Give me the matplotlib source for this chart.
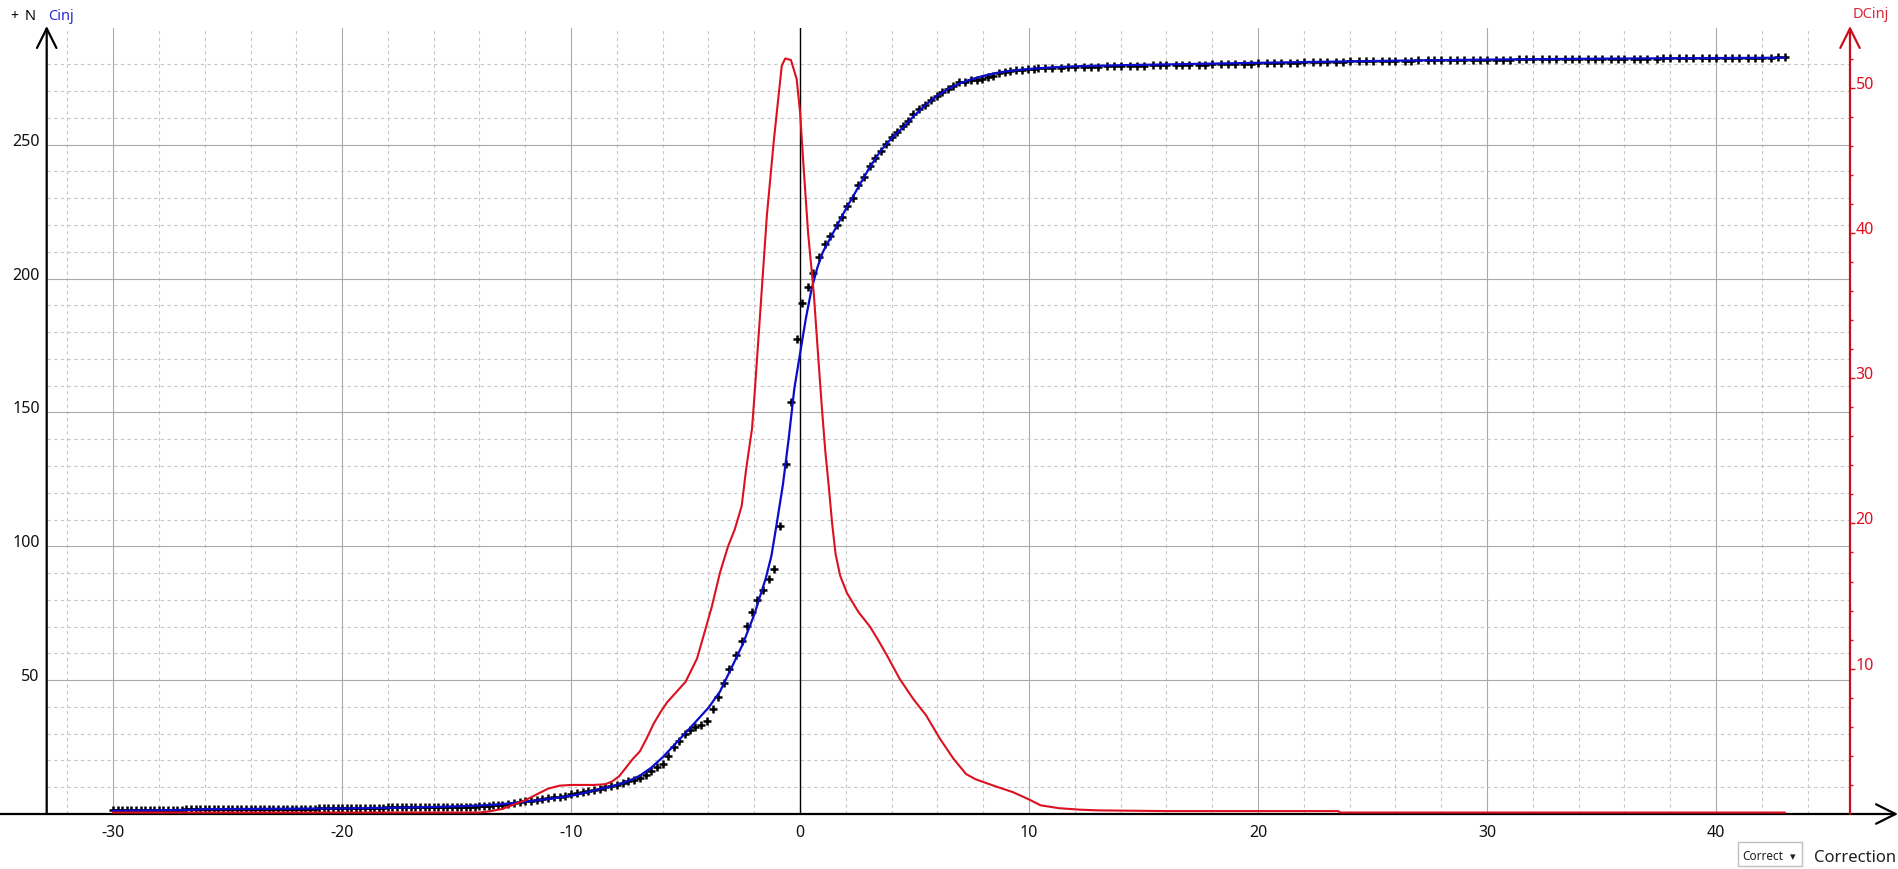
import numpy as np
import matplotlib
matplotlib.use('Agg')
from matplotlib import pyplot as plt
from matplotlib.patches import Rectangle

plt.rcParams['font.family'] = ['Noto Sans', 'DejaVu Sans']
plt.rcParams['axes.unicode_minus'] = False

W, H = 1899, 870

# --- N (black + markers), split by region ---
x_left = [-30.0, -29.8, -29.6, -29.4, -29.2, -29.0, -28.8, -28.6, -28.4, -28.2,
          -28.0, -27.8, -27.6, -27.4, -27.2, -27.0, -26.8, -26.6, -26.4, -26.2,
          -26.0, -25.8, -25.6, -25.4, -25.2, -25.0, -24.8, -24.6, -24.4, -24.2,
          -24.0, -23.8, -23.6, -23.4, -23.2, -23.0, -22.8, -22.6, -22.4, -22.2,
          -22.0, -21.8, -21.6, -21.4, -21.2, -21.0, -20.8, -20.6, -20.4, -20.2,
          -20.0, -19.8, -19.6, -19.4, -19.2, -19.0, -18.8, -18.6, -18.4, -18.2,
          -18.0, -17.8, -17.6, -17.4, -17.2, -17.0, -16.8, -16.6, -16.4, -16.2,
          -16.0, -15.8, -15.6, -15.4, -15.2, -15.0, -14.8, -14.6, -14.4, -14.2,
          -14.0, -13.8, -13.6, -13.4, -13.2]
n_left = [1.4, 1.4, 1.4, 1.4, 1.4, 1.4, 1.4, 1.4, 1.4, 1.4,
          1.4, 1.4, 1.4, 1.4, 1.4, 1.4, 1.8, 1.8, 1.8, 1.8,
          1.8, 1.8, 1.8, 1.8, 1.8, 1.8, 1.8, 1.8, 1.8, 1.8,
          2.0, 2.0, 2.0, 2.0, 2.0, 2.0, 2.0, 2.0, 2.0, 2.0,
          2.0, 2.0, 2.0, 2.0, 2.0, 2.2, 2.2, 2.2, 2.2, 2.2,
          2.2, 2.2, 2.2, 2.2, 2.2, 2.2, 2.2, 2.2, 2.2, 2.2,
          2.5, 2.5, 2.5, 2.5, 2.5, 2.5, 2.5, 2.5, 2.5, 2.5,
          2.6, 2.6, 2.6, 2.6, 2.6, 2.6, 2.8, 2.8, 2.8, 2.8,
          3.0, 3.0, 3.1, 3.2, 3.3]

x_mid = [-13.0, -12.75, -12.5, -12.25, -12.0, -11.75, -11.5, -11.25, -11.0, -10.75,
         -10.5, -10.25, -10.0, -9.75, -9.5, -9.25, -9.0, -8.75, -8.5, -8.25,
         -8.0, -7.75, -7.5, -7.25, -7.0, -6.75, -6.5, -6.25, -6.0, -5.75,
         -5.5, -5.27, -5.02, -4.8, -4.59, -4.34, -4.07, -3.81, -3.57, -3.32,
         -3.09, -2.81, -2.55, -2.33, -2.08, -1.86, -1.6, -1.35, -1.12, -0.87,
         -0.62, -0.39, -0.12, 0.09, 0.35, 0.57, 0.83, 1.09, 1.31, 1.62,
         1.83, 2.05, 2.31, 2.53, 2.8, 3.06, 3.27, 3.54, 3.76, 4.0,
         4.22, 4.48, 4.73, 4.95, 5.21, 5.46, 5.72, 5.97, 6.19, 6.45,
         6.69, 6.96, 7.2, 7.45, 7.72, 7.96, 8.22, 8.44, 8.7, 8.95,
         9.17, 9.43, 9.68, 9.97, 10.2, 10.4]
n_mid = [3.5, 3.8, 4.1, 4.4, 4.7, 5.0, 5.3, 5.6, 5.9, 6.2,
         6.5, 6.9, 7.3, 7.7, 8.1, 8.6, 9.0, 9.5, 10.0, 10.4,
         10.9, 11.6, 12.2, 12.8, 13.4, 14.7, 16.0, 17.4, 18.8, 21.6,
         24.9, 27.4, 29.9, 31.5, 32.4, 33.2, 34.9, 39.2, 43.8, 48.9,
         54.2, 59.5, 64.7, 70.3, 75.6, 80.1, 83.7, 87.8, 91.5, 107.7,
         130.7, 153.8, 177.4, 191.0, 197.0, 202.0, 208.0, 213.0, 216.0, 220.0,
         223.0, 227.0, 230.0, 235.0, 238.0, 242.0, 245.0, 247.5, 250.3, 253.0,
         254.8, 256.9, 259.0, 261.5, 263.4, 264.8, 266.8, 268.3, 269.6, 270.8,
         272.0, 273.3, 273.6, 274.0, 274.3, 274.6, 275.2, 275.8, 276.7, 277.3,
         277.7, 277.9, 278.0, 278.2, 278.2, 278.5]

x_plateau = [10.7, 11.0, 11.4, 11.7, 12.0, 12.4, 12.7, 13.0, 13.4, 13.7,
             14.0, 14.4, 14.7, 15.0, 15.4, 15.7, 16.0, 16.4, 16.7, 17.0,
             17.4, 17.7, 18.0, 18.4, 18.7, 19.0, 19.4, 19.7, 20.0, 20.4,
             20.7, 21.0, 21.4, 21.7, 22.0, 22.4, 22.7, 23.0, 23.4, 23.7,
             24.0, 24.4, 24.7, 25.0, 25.4, 25.7, 26.0, 26.4, 26.7, 27.0,
             27.4, 27.7, 28.0, 28.4, 28.7, 29.0, 29.4, 29.7, 30.0, 30.4,
             30.7, 31.0, 31.4, 31.7, 32.0, 32.4, 32.7, 33.0, 33.4, 33.7,
             34.0, 34.4, 34.7, 35.0, 35.4, 35.7, 36.0, 36.4, 36.7, 37.0,
             37.4, 37.7, 38.0, 38.4, 38.7, 39.0, 39.4, 39.7, 40.0, 40.4,
             40.7, 41.0, 41.4, 41.7, 42.0, 42.4, 42.7, 43.0]
n_plateau = [278.6, 278.7, 278.8, 278.9, 279.0, 279.1, 279.2, 279.2, 279.3, 279.3,
             279.4, 279.4, 279.5, 279.5, 279.6, 279.6, 279.7, 279.7, 279.8, 279.8,
             279.9, 279.9, 280.0, 280.0, 280.1, 280.2, 280.3, 280.3, 280.4, 280.5,
             280.6, 280.6, 280.7, 280.7, 280.8, 280.8, 280.9, 280.9, 281.0, 281.0,
             281.1, 281.1, 281.2, 281.2, 281.3, 281.3, 281.4, 281.4, 281.4, 281.5,
             281.5, 281.5, 281.6, 281.6, 281.6, 281.7, 281.7, 281.7, 281.8, 281.8,
             281.8, 281.8, 281.9, 281.9, 281.9, 281.9, 282.0, 282.0, 282.0, 282.0,
             282.0, 282.1, 282.1, 282.1, 282.1, 282.1, 282.2, 282.2, 282.2, 282.2,
             282.2, 282.3, 282.3, 282.3, 282.3, 282.3, 282.4, 282.4, 282.4, 282.4,
             282.4, 282.5, 282.5, 282.5, 282.5, 282.5, 282.6, 282.6]

# --- Cinj (blue fitted curve) ---
x_cinj = [-30, -28, -26.3, -26.2, -24, -22, -20, -18, -16, -14.5, -13.5, -13, -12.5,
          -12, -11.5, -11, -10.5, -10, -9.5, -9, -8.5, -8, -7.5, -7, -6.5, -6, -5.5,
          -5, -4.5, -4, -3.5, -3, -2.5, -2, -1.5, -1.25, -1, -0.75, -0.5, -0.25, 0,
          0.25, 0.5, 0.75, 1, 1.5, 2, 2.5, 3, 3.5, 4, 4.5, 5, 5.5, 6, 6.5, 7, 7.5,
          8, 8.5, 9, 9.5, 10, 11, 12, 14, 16, 18, 20, 23, 26, 30, 34, 38, 43]
cinj = [1.2, 1.4, 1.6, 1.8, 1.9, 2.0, 2.1, 2.3, 2.6, 3.0, 3.4, 3.7, 4.1,
        4.6, 5.1, 5.6, 6.2, 6.8, 7.7, 8.8, 9.8, 10.8, 12.3, 14.3, 17.3, 21.2, 25.7,
        30.3, 35.0, 39.7, 45.7, 54.5, 63.5, 74.5, 88.0, 96.5, 109.5, 123.0, 140.0, 159.0, 172.0,
        185.0, 196.0, 204.0, 210.0, 218.0, 226.0, 233.5, 241.0, 247.5, 252.5, 256.5, 261.0, 265.0, 268.3, 271.0, 273.0, 274.5,
        275.7, 276.7, 277.4, 277.9, 278.3, 278.9, 279.3, 279.7, 280.0, 280.3, 280.6, 281.0, 281.4, 281.8, 282.1, 282.3, 282.5]

# --- DCinj (red, right axis) ---
x_dcinj = [-30, -14, -13.5, -13, -12.5, -12, -11.5, -11, -10.5, -10, -9.5, -9, -8.5,
           -8.2, -7.9, -7.6, -7.3, -7.0, -6.7, -6.4, -6.1, -5.8, -5.4, -5.0, -4.5,
           -4.1, -3.85, -3.5, -3.15, -2.85, -2.55, -2.35, -2.1, -2.0, -1.75, -1.45,
           -1.15, -0.8, -0.65, -0.4, -0.15, 0.0, 0.15, 0.35, 0.6, 0.8, 0.95, 1.1,
           1.25, 1.4, 1.55, 1.75, 2.05, 2.55, 3.05, 3.4, 3.8, 4.35, 4.95, 5.5, 6.1,
           6.7, 7.25, 7.65, 8.45, 9.3, 10.0, 10.5, 11.3, 12.2, 13, 16, 20, 23.5, 23.6, 43]
dcinj = [0.1, 0.1, 0.2, 0.35, 0.65, 0.95, 1.35, 1.75, 1.95, 2.0, 2.0, 2.0, 2.05,
         2.25, 2.6, 3.2, 3.8, 4.3, 5.2, 6.2, 7.0, 7.7, 8.4, 9.1, 10.7,
         12.9, 14.3, 16.6, 18.4, 19.6, 21.2, 23.8, 26.5, 28.6, 34.3, 41.2,
         46.3, 51.5, 52.0, 51.9, 50.6, 48.3, 44.6, 40.0, 35.8, 31.3, 28.0, 25.0,
         22.6, 20.0, 17.9, 16.4, 15.2, 13.9, 12.9, 12.0, 10.9, 9.3, 7.9, 6.8, 5.2,
         3.8, 2.75, 2.4, 1.95, 1.5, 1.0, 0.6, 0.4, 0.3, 0.25, 0.2, 0.2, 0.2, 0.1, 0.1]

x_ticks = [-30, -20, -10, 0, 10, 20, 30, 40]
n_ticks = [50, 100, 150, 200, 250]
dc_ticks = [10, 20, 30, 40, 50]

RED = '#dc1020'
BLUE = '#0b0bcc'

fig = plt.figure(figsize=(W / 100, H / 100), dpi=100)
L, R, B, T = 46.7, 1850, 55, 841
ax = fig.add_axes([L / W, B / H, (R - L) / W, (T - B) / H])
ax.set_xlim(-32.9, 45.85)
ax.set_ylim(0, 293.6)
for s in ax.spines.values():
    s.set_visible(False)

ax.set_xticks(x_ticks)
ax.set_xticks([v for v in range(-32, 46, 2) if v % 10 != 0], minor=True)
ax.set_yticks(n_ticks)
ax.set_yticks([v for v in range(10, 290, 10) if v % 50 != 0], minor=True)
ax.tick_params(which='both', length=0)
ax.tick_params(axis='x', pad=7, labelsize=11.5, labelcolor='#111111')
ax.tick_params(axis='y', pad=5, labelsize=11.5, labelcolor='#111111')
plt.setp(ax.get_yticklabels(), va='baseline')
ax.grid(which='major', color='#a9a9a9', lw=0.8, ls='-')
ax.grid(which='minor', color='#c6c6c6', lw=0.8, ls=(0, (3, 3)))
ax.set_axisbelow(True)
ax.axvline(0, color='black', lw=1, zorder=1)

x_n = x_left + x_mid + x_plateau
n_all = n_left + n_mid + n_plateau
ax.plot(x_n, n_all, ls='none', marker='+', ms=6, mew=1.8, color='black', zorder=3)
ax.plot(x_cinj, cinj, color=BLUE, lw=1.6, zorder=4)

ax2 = ax.twinx()
ax2.set_ylim(0, 54.1)
for s in ax2.spines.values():
    s.set_visible(False)
ax2.set_yticks(dc_ticks)
ax2.set_yticks([v for v in range(2, 54, 2) if v % 10 != 0], minor=True)
ax2.tick_params(axis='y', which='major', length=3.5, width=1, color=RED,
                labelcolor=RED, pad=0.5, labelsize=11.5)
ax2.tick_params(axis='y', which='minor', length=2, width=1, color=RED)
plt.setp(ax2.get_yticklabels(), va='baseline')
ax2.plot(x_dcinj, dcinj, color=RED, lw=1.5, zorder=2)

# axis lines with open arrow heads
arrow = dict(arrowstyle='->,head_length=0.7,head_width=0.35', lw=1.6,
             mutation_scale=20, shrinkA=0, shrinkB=0)
ax.annotate('', xy=(1898, B), xytext=(0, B), xycoords='figure pixels',
            arrowprops=dict(arrow, color='black'), annotation_clip=False)
ax.annotate('', xy=(L, H - 27), xytext=(L, B), xycoords='figure pixels',
            arrowprops=dict(arrow, color='black'), annotation_clip=False)
ax2.annotate('', xy=(R, H - 27), xytext=(R, B), xycoords='figure pixels',
             arrowprops=dict(arrow, color='#c8101c'), annotation_clip=False)

# labels
fig.text(10 / W, (H - 20) / H, '+', fontsize=10, fontweight='bold', color='black')
fig.text(25 / W, (H - 20) / H, 'N', fontsize=10.5, color='black')
fig.text(48 / W, (H - 20) / H, 'Cinj', fontsize=10.5, color='#2a2ad4')
fig.text(1853 / W, (H - 18) / H, 'DCinj', fontsize=10.5, color='#d42a3a')
fig.text(1814 / W, 8 / H, 'Correction', fontsize=12, color='#202020')

fig.patches.append(Rectangle((1738 / W, 3 / H), 64 / W, 24 / H, transform=fig.transFigure,
                             facecolor='white', edgecolor='#c0c0c0', lw=1))
fig.text(1742 / W, 10 / H, 'Correct', fontsize=8.5, color='#202020')
fig.text(1790 / W, 10 / H, '\u25be', fontsize=8, color='#202020',
         family=['DejaVu Sans'])

fig.savefig('out.png', dpi=100)
